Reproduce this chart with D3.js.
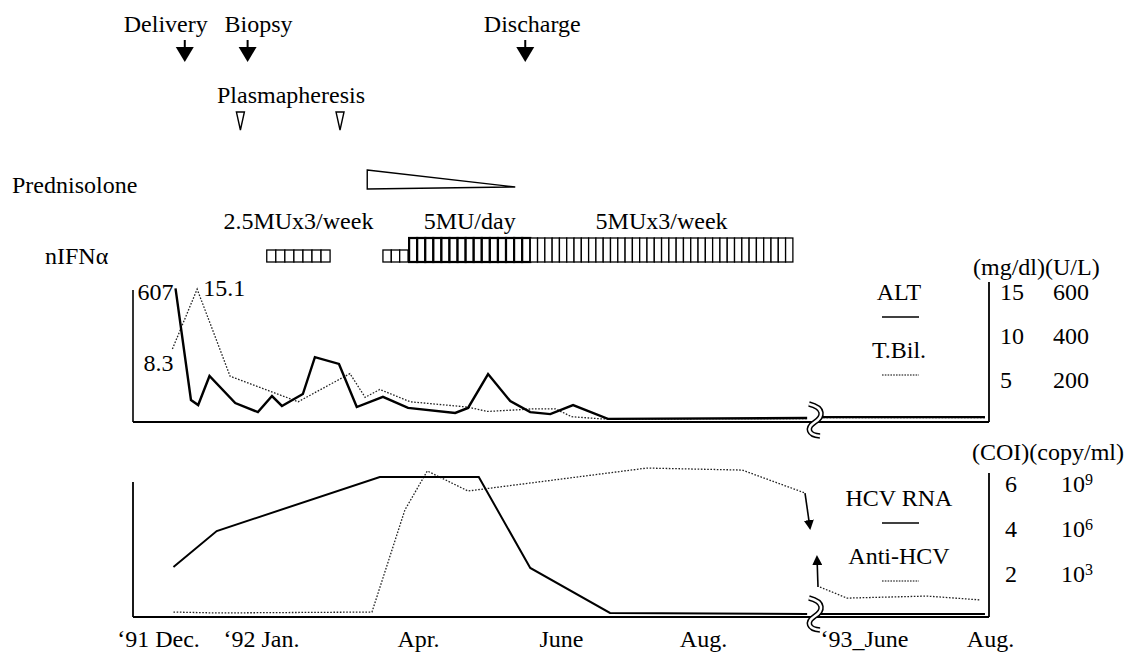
<!DOCTYPE html>
<html>
<head>
<meta charset="utf-8">
<script src="https://cdn.jsdelivr.net/npm/d3@7"></script>
<style>
  body { margin: 0; background: #fff; }
  svg text { font-family: "Liberation Serif", "Times New Roman", serif; font-size: 24px; fill: #000; }
</style>
</head>
<body>
<div id="chart"></div>
<script>
// x values are months counted from Dec 1991 (0 = Dec '91, 1 = Jan '92 ... 18 = June '93)
var tickMonths = [0, 1, 4, 6, 8, 18, 20];
var tickLabels = ["\u201891 Dec.", "\u201892 Jan.", "Apr.", "June", "Aug.", "\u201893_June", "Aug."];
var breakMonths = [9.5, 17.3];

var eventNames = ["Delivery", "Biopsy", "Discharge"];
var eventMonths = [0.26, 0.87, 5.5];
var plasmaMonths = [0.8, 2.51];
var predMonths = [3.03, 5.36];

var ifnLabels = ["2.5MUx3/week", "", "5MU/day", "5MUx3/week"];
var ifnStart = [1.11, 3.33, 3.83, 5.57];
var ifnEnd = [2.32, 3.81, 5.57, 9.26];
var ifnDose = [2.5, 2.5, 5, 5];
var ifnPerWeek = [3, 3, 7, 3];
var ifnCells = [7, 3, 15, 36];

// ALT (U/L), null marks the axis break
var altMonths = [0.17, 0.32, 0.39, 0.50, 0.75, 0.97, 1.21, 1.40, 1.80, 2.03, 2.49, 2.83, 3.33, 3.81, 4.52, 4.70, 4.98, 5.29, 5.57, 5.85, 6.17, 6.66, 9.46, 13, 17.3, 19.92];
var altValues = [607, 100, 77, 209, 86, 45, 118, 73, 127, 295, 264, 68, 114, 64, 41, 64, 218, 95, 45, 36, 77, 14, 18, null, 22, 22];

// T.Bil. (mg/dl)
var tbilMonths = [0.14, 0.38, 0.70, 1.71, 2.70, 2.99, 3.27, 3.85, 4.69, 4.97, 5.43, 5.61, 5.92, 6.15, 6.58, 9.46, 13, 17.3, 19.92];
var tbilValues = [8.3, 15.1, 5.2, 2.3, 5.5, 2.8, 3.7, 2.3, 1.7, 1.2, 1.4, 1.5, 1.5, 0.6, 0.35, 0.4, null, 0.5, 0.5];

// HCV RNA (log10 copy/ml)
var rnaMonths = [0.15, 0.57, 3.27, 4.85, 5.57, 6.69, 9.46, 13, 17.3, 19.92];
var rnaValues = [3.33, 5.73, 9.33, 9.33, 3.27, 0.27, 0.2, null, 0.2, 0.2];

// Anti-HCV (COI)
var antiMonths = [0.15, 0.57, 3.12, 3.75, 4.13, 4.70, 7.21, 8.55, 9.43, 13, 17.3, 17.73, 19.0, 19.84];
var antiValues = [0.22, 0.18, 0.22, 4.76, 6.49, 5.6, 6.62, 6.53, 5.51, null, 1.33, 0.84, 0.93, 0.76];

var upperNames = ["ALT", "T.Bil."];
var lowerNames = ["HCV RNA", "Anti-HCV"];

// ---- layout ----
var width = 1137, height = 652;
var svg = d3.select("#chart").append("svg")
    .attr("width", width)
    .attr("height", height);

var x = d3.scaleLinear()
  .domain([0, 1, 4, 6, 8, breakMonths[0], breakMonths[1], 18, 20])
  .range([158, 261, 418, 561, 703, 810, 820, 864, 990]);

var upTop = 290, upBase = 422, loTop = 482, loBase = 617;
var xLeft = 133, xRight = 989;

var yBil = d3.scaleLinear().domain([0, 15]).range([upBase, upTop]);
var yAlt = d3.scaleLinear().domain([0, 600]).range([upBase, upTop]);
var yCoi = d3.scaleLinear().domain([0, 6]).range([loBase, loTop]);
var yRna = d3.scaleLinear().domain([0, 9]).range([loBase, loTop]);
var hDose = d3.scaleLinear().domain([0, 5]).range([0, 24]);

var defs = svg.append("defs");
defs.append("marker")
    .attr("id", "arr")
    .attr("viewBox", "0 0 10 10")
    .attr("refX", 8).attr("refY", 5)
    .attr("markerWidth", 10).attr("markerHeight", 10)
    .attr("markerUnits", "userSpaceOnUse")
    .attr("orient", "auto")
  .append("path")
    .attr("d", "M0,0L10,5L0,10Z")
    .attr("fill", "#000");

// ---- top annotations ----
var eventDx = [-19, 11, 7];
eventMonths.forEach(function(m, i) {
  var cx = x(m);
  svg.append("text").attr("x", cx + eventDx[i]).attr("y", 32)
    .attr("text-anchor", "middle").text(eventNames[i]);
  svg.append("line").attr("x1", cx).attr("x2", cx).attr("y1", 40).attr("y2", 48)
    .attr("stroke", "#000").attr("stroke-width", 2);
  svg.append("path")
    .attr("d", "M" + (cx - 9) + ",47L" + (cx + 9) + ",47L" + cx + ",62Z")
    .attr("fill", "#000");
});

svg.append("text").attr("x", 291).attr("y", 103).attr("text-anchor", "middle").text("Plasmapheresis");
svg.selectAll(".plasma")
  .data(plasmaMonths)
  .enter()
  .append("path")
    .attr("class", "plasma")
    .attr("d", function(d) { var c = x(d); return "M" + (c - 4) + ",112L" + (c + 4) + ",112L" + c + ",130Z"; })
    .attr("fill", "#fff").attr("stroke", "#000").attr("stroke-width", 1.4);

svg.append("text").attr("x", 12).attr("y", 193).text("Prednisolone");
svg.append("path")
  .attr("d", "M" + x(predMonths[0]) + ",170L" + x(predMonths[1]) + ",187L" + x(predMonths[0]) + ",189Z")
  .attr("fill", "#fff").attr("stroke", "#000").attr("stroke-width", 1.4);

svg.append("text").attr("x", 45).attr("y", 264).text("nIFN\u03b1");

var ifnBase = 262;
ifnStart.forEach(function(s, i) {
  var x0 = x(s), x1 = x(ifnEnd[i]), h = hDose(ifnDose[i]);
  var cw = (x1 - x0) / ifnCells[i];
  var g = svg.append("g");
  g.selectAll("rect")
    .data(d3.range(ifnCells[i]))
    .enter()
    .append("rect")
      .attr("x", function(k) { return x0 + k * cw; })
      .attr("y", ifnBase - h)
      .attr("width", cw)
      .attr("height", h)
      .attr("fill", "#fff")
      .attr("stroke", "#000")
      .attr("stroke-width", ifnPerWeek[i] > 3 ? 2.2 : 1.3);
  if (ifnLabels[i]) {
    svg.append("text").attr("x", (x0 + x1) / 2).attr("y", 229)
      .attr("text-anchor", "middle").text(ifnLabels[i]);
  }
});

// ---- frames ----
function vline(xx, y1, y2, w) {
  svg.append("line").attr("x1", xx).attr("x2", xx).attr("y1", y1).attr("y2", y2)
    .attr("stroke", "#000").attr("stroke-width", w);
}
function hline(x1, x2, yy, w) {
  svg.append("line").attr("x1", x1).attr("x2", x2).attr("y1", yy).attr("y2", yy)
    .attr("stroke", "#000").attr("stroke-width", w);
}
vline(xLeft, upTop, upBase, 1.6);
hline(xLeft, xRight, upBase, 2);
vline(xRight, 282, upBase, 1.8);
vline(xLeft, loTop, loBase, 1.8);
hline(xLeft, xRight, loBase, 2.2);
vline(xRight, 473, loBase, 1.8);

// right axes
function rightAxis(scale, vals, pad, fmt) {
  var a = d3.axisRight(scale).tickValues(vals).tickSize(0).tickPadding(pad)
    .tickFormat(fmt || d3.format("d"));
  var g = svg.append("g").attr("transform", "translate(" + xRight + ",2)").call(a);
  g.select(".domain").remove();
  g.selectAll("text").style("font-size", "24px").style("font-family", "'Liberation Serif', serif");
  return g;
}
rightAxis(yBil, [5, 10, 15], 11);
rightAxis(yAlt, [200, 400, 600], 64);
rightAxis(yCoi, [2, 4, 6], 16);
var rnaAx = rightAxis(yRna, [3, 6, 9], 72);
rnaAx.selectAll("text").each(function(d) {
  var t = d3.select(this).text("10");
  t.append("tspan").attr("dy", "-0.45em").style("font-size", "16px").text(d);
});

svg.append("text").attr("x", 973).attr("y", 275).text("(mg/dl)(U/L)");
svg.append("text").attr("x", 972).attr("y", 460).text("(COI)(copy/ml)");

// bottom axis labels
var xAxis = d3.axisBottom(x).tickValues(tickMonths).tickSize(0).tickPadding(13)
  .tickFormat(function(d, i) { return tickLabels[i]; });
var xg = svg.append("g").attr("transform", "translate(0," + loBase + ")").call(xAxis);
xg.select(".domain").remove();
xg.selectAll("text").style("font-size", "24px").style("font-family", "'Liberation Serif', serif");

// ---- series ----
function mkLine(ys) {
  return d3.line()
    .defined(function(d) { return d[1] != null; })
    .x(function(d) { return x(d[0]); })
    .y(function(d) { return ys(d[1]); });
}
var solid = { stroke: "#000", w: 2.4, dash: null };
var dotted = { stroke: "#222", w: 1.3, dash: "1.6,1.6" };
function drawSeries(months, values, ys, st) {
  svg.append("path")
    .datum(d3.zip(months, values))
    .attr("d", mkLine(ys))
    .attr("fill", "none")
    .attr("stroke", st.stroke)
    .attr("stroke-width", st.w)
    .attr("stroke-dasharray", st.dash)
    .attr("stroke-linejoin", "miter");
}
drawSeries(tbilMonths, tbilValues, yBil, dotted);
drawSeries(altMonths, altValues, yAlt, solid);
drawSeries(antiMonths, antiValues, yCoi, dotted);
drawSeries(rnaMonths, rnaValues, yRna, { stroke: "#000", w: 2, dash: null });

// value labels on first points
svg.append("text").attr("x", x(altMonths[0]) - 2).attr("y", yAlt(altValues[0]) + 12).attr("text-anchor", "end").text(altValues[0]);
svg.append("text").attr("x", x(tbilMonths[1]) + 6).attr("y", yBil(tbilValues[1]) + 7).text(tbilValues[1]);
svg.append("text").attr("x", x(tbilMonths[0]) + 1).attr("y", yBil(tbilValues[0]) + 22).attr("text-anchor", "end").text(tbilValues[0]);

// Anti-HCV arrows across the break
var iNull = antiValues.indexOf(null);
var pa = [x(antiMonths[iNull - 1]), yCoi(antiValues[iNull - 1])];
var pb = [x(antiMonths[iNull + 1]), yCoi(antiValues[iNull + 1])];
svg.append("line").attr("x1", pa[0]).attr("y1", pa[1]).attr("x2", pa[0] + 5).attr("y2", pa[1] + 35)
  .attr("stroke", "#000").attr("stroke-width", 1.6).attr("marker-end", "url(#arr)");
svg.append("line").attr("x1", pb[0] - 2).attr("y1", pb[1]).attr("x2", pb[0] - 3).attr("y2", pb[1] - 30)
  .attr("stroke", "#000").attr("stroke-width", 1.6).attr("marker-end", "url(#arr)");

// axis break marks
var bx = (x(breakMonths[0]) + x(breakMonths[1])) / 2;
[upBase - 2, loBase - 3].forEach(function(by) {
  var d = "M" + (bx - 6) + "," + (by - 16) +
          "C" + (bx + 10) + "," + (by - 12) + " " + (bx + 8) + "," + (by - 3) + " " + bx + "," + (by + 2) +
          "C" + (bx - 9) + "," + (by + 8) + " " + (bx - 7) + "," + (by + 15) + " " + (bx + 5) + "," + (by + 16);
  svg.append("path").attr("d", d).attr("fill", "none").attr("stroke", "#000").attr("stroke-width", 5.5);
  svg.append("path").attr("d", d).attr("fill", "none").attr("stroke", "#fff").attr("stroke-width", 2.5);
});

// legends
function legend(names, y1, styles) {
  names.forEach(function(n, i) {
    var yy = y1 + i * 58;
    svg.append("text").attr("x", 899).attr("y", yy).attr("text-anchor", "middle").text(n);
    svg.append("line").attr("x1", 882).attr("x2", 919).attr("y1", yy + 17).attr("y2", yy + 17)
      .attr("stroke", "#000").attr("stroke-width", styles[i].w).attr("stroke-dasharray", styles[i].dash);
  });
}
legend(upperNames, 300, [{ w: 1.6, dash: null }, { w: 1.2, dash: "1.6,1.2" }]);
legend(lowerNames, 506, [{ w: 1.6, dash: null }, { w: 1.2, dash: "1.6,1.2" }]);
</script>
</body>
</html>
